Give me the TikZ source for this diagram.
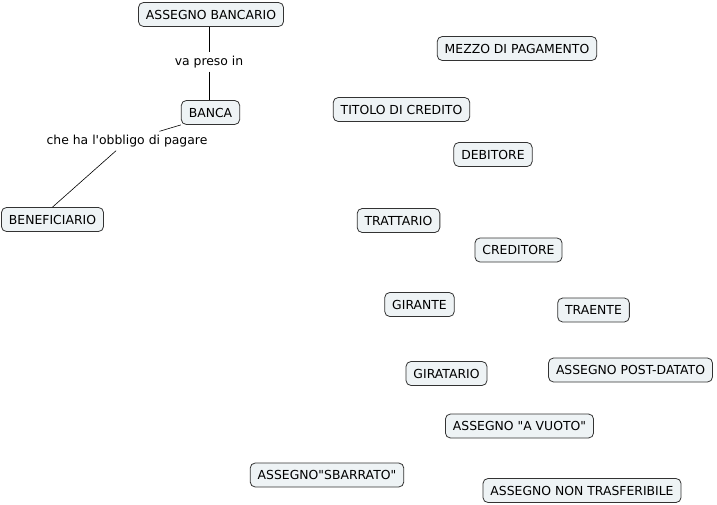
\documentclass[tikz,border=0pt]{standalone}
\usepackage{fontspec}
\setmainfont{DejaVu Sans}[Ligatures=TeXOff]
\usepackage{xcolor}
\definecolor{ConceptFill}{HTML}{EEF3F5}
\definecolor{ConceptLine}{HTML}{333333}
\tikzset{%
  concept/.style={%
    rectangle,%
    rounded corners=5pt,%
    draw=ConceptLine,%
    fill=ConceptFill,%
    line width=0.8pt,%
    minimum height=24pt,%
    inner xsep=7.5pt,%
    font={\fontsize{12.4}{14}\selectfont},%
    align=center%
  },
  linkword/.style={%
    inner xsep=2pt,%
    inner ysep=3.5pt,%
    font={\fontsize{12.4}{14}\selectfont},%
  },
  link/.style={%
    draw=black,%
    line width=0.6pt,%
  },
}
\begin{document}
\begin{tikzpicture}[x=1pt, y=-1pt]
    \useasboundingbox (0,0) rectangle (717,505);

    % linked concepts
    \node[concept] (Assegno) at (211, 14.5) {ASSEGNO BANCARIO};
    \node[concept] (Banca) at (210.5, 112.5) {BANCA};
    \node[concept] (Beneficiario) at (52.5, 219.5) {BENEFICIARIO};
    \node[linkword] (vaPreso) at (209, 62) {va preso in};
    \node[linkword] (obbligo) at (127, 141) {che ha l'obbligo di pagare};

    % free concepts
    \node[concept] (Mezzo) at (517, 48.5) {MEZZO DI PAGAMENTO};
    \node[concept] (Titolo) at (401.5, 109.5) {TITOLO DI CREDITO};
    \node[concept] (Debitore) at (493, 154.5) {DEBITORE};
    \node[concept] (Trattario) at (398.5, 220.5) {TRATTARIO};
    \node[concept] (Creditore) at (518.5, 250) {CREDITORE};
    \node[concept] (Girante) at (419.5, 304.5) {GIRANTE};
    \node[concept] (Traente) at (593.5, 310) {TRAENTE};
    \node[concept] (Giratario) at (446.5, 373.5) {GIRATARIO};
    \node[concept] (PostDatato) at (630.5, 370) {ASSEGNO POST-DATATO};
    \node[concept] (Vuoto) at (519.5, 426) {ASSEGNO "A VUOTO"};
    \node[concept] (Sbarrato) at (327, 475) {ASSEGNO"SBARRATO"};
    \node[concept] (NonTrasf) at (582, 490.5) {ASSEGNO NON TRASFERIBILE};

    \draw[link]
      (Assegno.south -| vaPreso.north)
      --
      (vaPreso.north);
    \draw[link]
      (vaPreso.south)
      --
      (Banca.north -| vaPreso.south);
    \draw[link]
      (Banca.south west)
      --
      (obbligo);
    \draw[link]
      (obbligo)
      --
      (Beneficiario.north);

  \end{tikzpicture}
\end{document}
